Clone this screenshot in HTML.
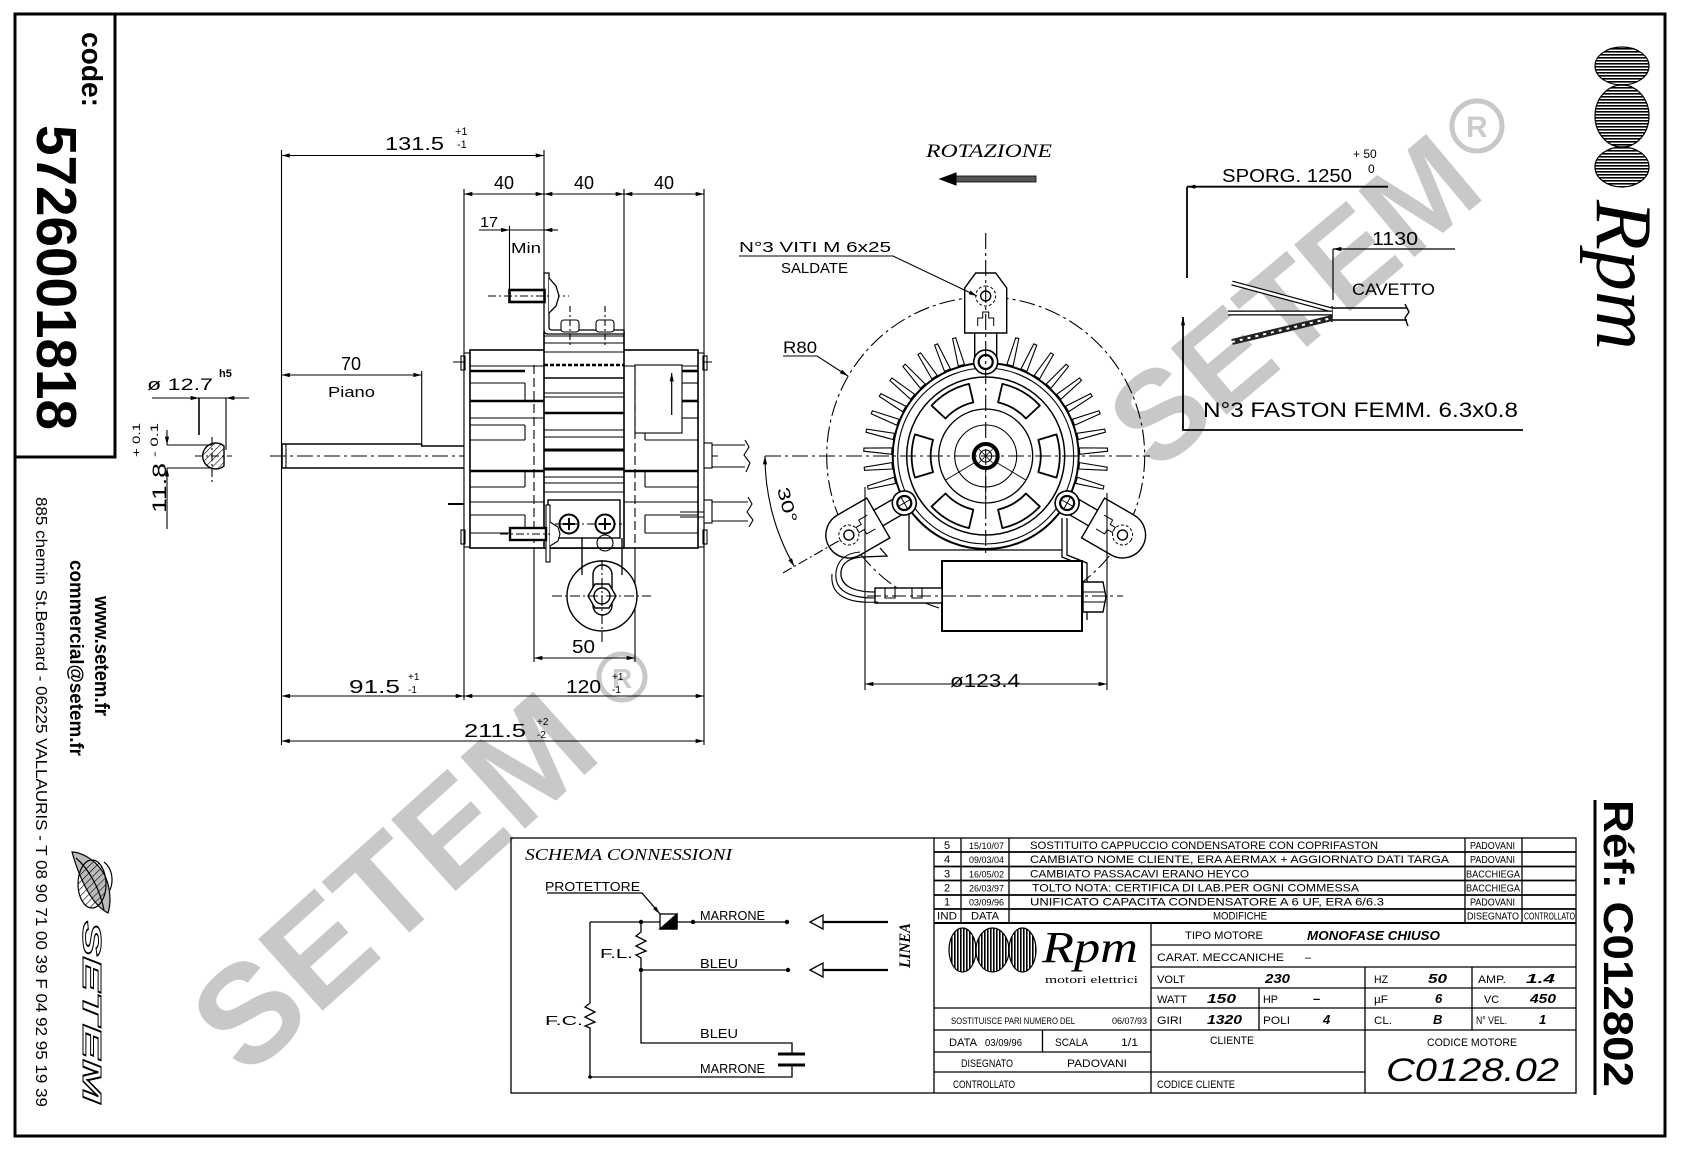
<!DOCTYPE html>
<html><head><meta charset="utf-8">
<style>
html,body{margin:0;padding:0;background:#fff;}
svg{display:block;}
text{font-family:"Liberation Sans",sans-serif;fill:#000;}
.s{font-family:"Liberation Serif",serif;}
</style></head><body>
<svg xmlns="http://www.w3.org/2000/svg" xmlns:xlink="http://www.w3.org/1999/xlink" width="1683" height="1153" viewBox="0 0 1683 1153">
<defs>
<marker id="ar" viewBox="0 0 10 6" refX="10" refY="3" markerWidth="9" markerHeight="5" orient="auto-start-reverse" markerUnits="userSpaceOnUse"><path d="M0,0.5 L10,3 L0,5.5 z" fill="#000"/></marker>
<pattern id="hatch" width="5" height="5" patternUnits="userSpaceOnUse" patternTransform="rotate(45)"><line x1="0" y1="0" x2="0" y2="5" stroke="#000" stroke-width="1.2"/></pattern>
<pattern id="hs" width="3" height="3" patternUnits="userSpaceOnUse"><rect width="3" height="1.6" fill="#000"/></pattern>
<pattern id="vs" width="3" height="3" patternUnits="userSpaceOnUse"><rect width="1.6" height="3" fill="#000"/></pattern>
<path id="fin" d="M94,-3.2 L122,-1.6 L122,1.6 L94,3.2 Z" fill="#fff" stroke="#000" stroke-width="1.1"/>
<path id="slot" d="M70.77,-21.64 A74,74 0 0 1 70.77,21.64 L52.6,16.08 A55,55 0 0 0 52.6,-16.08 Z" fill="#fff" stroke="#000" stroke-width="1.8" stroke-linejoin="round"/>
<g id="lug" fill="#fff" stroke="#000" stroke-width="1.4">
  <rect x="94" y="-9" width="32" height="18"/>
  <path d="M124,-23 H158 A23 23 0 0 1 158,23 H124 Z"/>
  <path d="M132,-8 H142 V-3 H148 V3 H142 V8 H132" fill="none" stroke-width="1"/>
  <circle cx="158" cy="0" r="10" stroke-dasharray="3 2" stroke-width="1"/>
  <circle cx="158" cy="0" r="5"/>
  <circle cx="94" cy="0" r="12" stroke-width="1.6"/>
  <circle cx="94" cy="0" r="7" stroke-width="2.2"/>
  <line x1="88" y1="0" x2="100" y2="0" stroke-width="1"/>
  <line x1="94" y1="-6" x2="94" y2="6" stroke-width="1"/>
</g>
</defs>
<rect width="1683" height="1153" fill="#fff"/>

<!-- watermarks -->
<g>
  <text transform="translate(392,881) rotate(-42)" text-anchor="middle" y="50" font-size="140" font-weight="bold" style="fill:#c8c8c8">SETEM</text>
  <text transform="translate(1293,300) rotate(-40)" text-anchor="middle" y="45" font-size="126" font-weight="bold" style="fill:#c8c8c8">SETEM</text>
</g>
<g fill="none" stroke="#c8c8c8" stroke-width="5">
  <circle cx="622" cy="677" r="23"/>
  <circle cx="1477" cy="126" r="25"/>
</g>
<text x="612" y="688" font-size="28" font-weight="bold" style="fill:#cccccc">R</text>
<text x="1466" y="137" font-size="30" font-weight="bold" style="fill:#cccccc">R</text>

<!-- frame -->
<rect x="15" y="14" width="1650" height="1122" fill="none" stroke="#000" stroke-width="3"/>
<path d="M115,14 V457 H15" fill="none" stroke="#000" stroke-width="3"/>

<!-- left panel texts -->
<text transform="translate(82,32) rotate(90)" font-size="29" font-weight="bold" textLength="75" lengthAdjust="spacingAndGlyphs">code:</text>
<text transform="translate(37,125) rotate(90)" font-size="57" font-weight="bold" textLength="305" lengthAdjust="spacingAndGlyphs">5726001818</text>
<text transform="translate(95,596) rotate(90)" font-size="20" font-weight="bold" textLength="120" lengthAdjust="spacingAndGlyphs">www.setem.fr</text>
<text transform="translate(70,560) rotate(90)" font-size="19" font-weight="bold" textLength="196" lengthAdjust="spacingAndGlyphs">commercial@setem.fr</text>
<text transform="translate(36,497) rotate(90)" font-size="16" textLength="610" lengthAdjust="spacingAndGlyphs">885 chemin St.Bernard  -  06225 VALLAURIS  -  T 08 90 71 00 39  F 04 92 95 19 39</text>
<!-- setem logo -->
<g stroke="#000" fill="none" stroke-width="1.2">
  <path d="M72,852 C80,880 92,905 108,913 C112,900 110,880 100,868 C92,858 80,852 72,852 Z" fill="#bbb"/>
  <path d="M76,858 C90,870 100,890 104,910"/>
  <path d="M104,862 C112,868 114,880 110,890"/>
  <ellipse cx="92" cy="884" rx="14" ry="24" fill="url(#hatch)"/>
</g>
<text transform="translate(83,921) rotate(90)" font-size="26" font-style="italic" font-weight="bold" textLength="182" lengthAdjust="spacingAndGlyphs" style="fill:#fff;stroke:#000;stroke-width:1">SETEM</text>

<!-- right top logo -->
<g stroke="#000" stroke-width="1.2">
  <ellipse cx="1622" cy="66" rx="27" ry="19" fill="url(#hs)"/>
  <ellipse cx="1622" cy="116" rx="27" ry="31" fill="url(#hs)"/>
  <ellipse cx="1622" cy="167" rx="27" ry="20" fill="url(#hs)"/>
</g>
<text class="s" transform="translate(1597,200) rotate(90)" font-size="80" font-style="italic" textLength="150" lengthAdjust="spacingAndGlyphs">Rpm</text>

<!-- Ref -->
<line x1="1595" y1="800" x2="1595" y2="1095" stroke="#000" stroke-width="3"/>
<text transform="translate(1604,800) rotate(90)" font-size="42" font-weight="bold" textLength="287" lengthAdjust="spacingAndGlyphs">Réf:  C012802</text>

<!-- ================= SIDE VIEW ================= -->
<g fill="none" stroke="#000" stroke-width="1.1">
  <line x1="281.5" y1="150" x2="281.5" y2="745"/>
  <line x1="464" y1="189" x2="464" y2="700"/>
  <line x1="544" y1="150" x2="544" y2="273"/>
  <line x1="624" y1="189" x2="624" y2="332"/>
  <line x1="704" y1="189" x2="704" y2="745"/>
  <line x1="509.5" y1="226" x2="509.5" y2="290"/>
  <line x1="421.7" y1="371" x2="421.7" y2="444"/>
  <line x1="281.5" y1="155.5" x2="544" y2="155.5" marker-start="url(#ar)" marker-end="url(#ar)"/>
  <line x1="464" y1="194" x2="544" y2="194" marker-start="url(#ar)" marker-end="url(#ar)"/>
  <line x1="544" y1="194" x2="624" y2="194" marker-start="url(#ar)" marker-end="url(#ar)"/>
  <line x1="624" y1="194" x2="704" y2="194" marker-start="url(#ar)" marker-end="url(#ar)"/>
  <line x1="479" y1="230" x2="509.5" y2="230" marker-end="url(#ar)"/>
  <line x1="558" y1="230" x2="544" y2="230" marker-end="url(#ar)"/>
  <line x1="509.5" y1="230" x2="544" y2="230"/>
  <line x1="281.5" y1="375" x2="421.7" y2="375" marker-start="url(#ar)" marker-end="url(#ar)"/>
  <line x1="281.5" y1="696" x2="464" y2="696" marker-start="url(#ar)" marker-end="url(#ar)"/>
  <line x1="464" y1="696" x2="704" y2="696" marker-start="url(#ar)" marker-end="url(#ar)"/>
  <line x1="281.5" y1="741" x2="704" y2="741" marker-start="url(#ar)" marker-end="url(#ar)"/>
  <line x1="534" y1="658" x2="635" y2="658" marker-start="url(#ar)" marker-end="url(#ar)"/>
  <line x1="152" y1="398" x2="199" y2="398" marker-end="url(#ar)"/>
  <line x1="249" y1="398" x2="226" y2="398" marker-end="url(#ar)"/>
  <line x1="199" y1="398" x2="226" y2="398"/>
  <line x1="199" y1="398" x2="199" y2="435" stroke-width="1.6"/>
  <line x1="226" y1="398" x2="226" y2="450"/>
  <line x1="167" y1="430" x2="167" y2="445" marker-end="url(#ar)"/>
  <line x1="167" y1="529" x2="167" y2="468" marker-end="url(#ar)"/>
  <line x1="167" y1="445" x2="212" y2="445"/>
  <line x1="167" y1="468" x2="212" y2="468"/>
  <path d="M224,446 A13,13 0 1 0 224,466 Z" fill="url(#hatch)" stroke-width="1.4"/>
  <line x1="212" y1="437" x2="212" y2="482" stroke-dasharray="8 3 2 3"/>
  <line x1="195" y1="456" x2="232" y2="456" stroke-dasharray="8 3 2 3"/>
  <line x1="270" y1="456" x2="722" y2="456" stroke-dasharray="16 4 3 4"/>
  <line x1="453" y1="362" x2="715" y2="362" stroke-dasharray="16 4 3 4"/>
  <line x1="448" y1="504" x2="703" y2="504" stroke-dasharray="16 4 3 4" stroke-width="2"/>
  <path d="M421.7,444 H282 V468 H464 M421.7,444 V446 H464" stroke-width="1.5"/>
  <line x1="286" y1="444" x2="286" y2="468"/>
  <rect x="464" y="353" width="6" height="194" fill="#fff"/>
  <rect x="698" y="353" width="6" height="194" fill="#fff"/>
  <rect x="461" y="356" width="4" height="14"/>
  <rect x="461" y="530" width="4" height="14"/>
  <rect x="703" y="356" width="4" height="14"/>
  <rect x="703" y="530" width="4" height="14"/>
  <rect x="470" y="350" width="228" height="198" stroke-width="1.6" fill="#fff"/>
  <g>
    <line x1="470" y1="371" x2="525" y2="371" stroke-width="2.6"/>
    <line x1="470" y1="401" x2="544" y2="401" stroke-width="2.6"/>
    <line x1="470" y1="471" x2="544" y2="471" stroke-width="2.6"/>
    <line x1="470" y1="383" x2="525" y2="383"/>
    <line x1="470" y1="418" x2="544" y2="418"/>
    <line x1="470" y1="425" x2="525" y2="425"/>
    <line x1="470" y1="440" x2="525" y2="440"/>
    <line x1="470" y1="487" x2="525" y2="487"/>
    <line x1="470" y1="502" x2="544" y2="502"/>
    <line x1="470" y1="515" x2="525" y2="515"/>
    <line x1="470" y1="533" x2="525" y2="533"/>
    <line x1="525" y1="383" x2="525" y2="401"/>
    <line x1="525" y1="425" x2="525" y2="440"/>
    <line x1="525" y1="471" x2="525" y2="487"/>
    <line x1="525" y1="515" x2="525" y2="533"/>
    <line x1="470" y1="366" x2="544" y2="366"/>
  </g>
  <g>
    <line x1="682" y1="371" x2="698" y2="371" stroke-width="2.6"/>
    <line x1="682" y1="401" x2="698" y2="401" stroke-width="2.6"/>
    <line x1="624" y1="471" x2="698" y2="471" stroke-width="2.6"/>
    <line x1="682" y1="383" x2="698" y2="383"/>
    <line x1="682" y1="418" x2="698" y2="418"/>
    <line x1="645" y1="440" x2="698" y2="440"/>
    <line x1="645" y1="487" x2="698" y2="487"/>
    <line x1="624" y1="502" x2="698" y2="502"/>
    <line x1="645" y1="515" x2="698" y2="515"/>
    <line x1="645" y1="533" x2="698" y2="533"/>
    <line x1="645" y1="433" x2="645" y2="440"/>
    <line x1="645" y1="471" x2="645" y2="487"/>
    <line x1="645" y1="515" x2="645" y2="533"/>
    <line x1="624" y1="366" x2="698" y2="366"/>
    <rect x="635" y="365" width="47" height="68" fill="#fff"/>
    <line x1="671.7" y1="415" x2="671.7" y2="373" stroke-width="1.2" marker-end="url(#ar)"/>
  </g>
  <rect x="544" y="332" width="80" height="216" stroke-width="1.6" fill="#fff"/>
  <g>
    <line x1="544" y1="336" x2="624" y2="336"/>
    <line x1="544" y1="343" x2="624" y2="343"/>
    <line x1="544" y1="352" x2="624" y2="352"/>
    <line x1="544" y1="365" x2="624" y2="365" stroke-width="2.4" stroke-dasharray="4 2"/>
    <line x1="544" y1="378" x2="624" y2="378" stroke-width="1.6"/>
    <line x1="544" y1="393" x2="624" y2="393"/>
    <line x1="544" y1="397" x2="624" y2="397"/>
    <line x1="544" y1="413" x2="624" y2="413" stroke-width="2.6"/>
    <line x1="544" y1="430" x2="624" y2="430"/>
    <line x1="544" y1="437" x2="624" y2="437"/>
    <line x1="544" y1="450" x2="624" y2="450" stroke-width="3"/>
    <line x1="544" y1="469" x2="624" y2="469" stroke-width="3"/>
    <line x1="544" y1="477" x2="624" y2="477"/>
    <line x1="544" y1="483" x2="624" y2="483"/>
    <line x1="544" y1="492" x2="624" y2="492"/>
  </g>
  <line x1="534" y1="365" x2="534" y2="548" stroke-dasharray="9 4"/>
  <line x1="635" y1="365" x2="635" y2="548" stroke-dasharray="9 4"/>
  <line x1="534" y1="548" x2="534" y2="662"/>
  <line x1="635" y1="548" x2="635" y2="662"/>
  <rect x="704" y="443" width="8" height="25" fill="#fff"/>
  <path d="M712,445 H745 M712,467 H745 M745,440 L749,447 L744,455 L750,463 L746,472"/>
  <rect x="704" y="500" width="8" height="23" fill="#fff"/>
  <path d="M712,502 H748 M712,521 H748 M748,497 L752,504 L747,512 L753,520 L749,527"/>
  <line x1="680" y1="512" x2="704" y2="512"/>
  <line x1="680" y1="517" x2="704" y2="517"/>
  <path d="M544,273 H549 V327 Q549,330 552,330 H624 V334 H548 Q544,334 544,330 Z" fill="#fff" stroke-width="1.3"/>
  <rect x="509.5" y="290" width="35" height="12" fill="#fff" stroke-width="2.6"/>
  <line x1="488" y1="296" x2="569" y2="296" stroke-dasharray="8 3 2 3"/>
  <path d="M549,278 L556,286 L559,296 L556,306 L549,313" fill="#fff" stroke-width="1.3"/>
  <rect x="561" y="320" width="18" height="12" rx="3" fill="#fff"/>
  <rect x="596" y="320" width="18" height="12" rx="3" fill="#fff"/>
  <line x1="570" y1="306" x2="570" y2="346" stroke-dasharray="6 3 2 3"/>
  <line x1="605" y1="306" x2="605" y2="346" stroke-dasharray="6 3 2 3"/>
  <path d="M582,538 V596 M622,538 V596"/>
  <circle cx="602" cy="596" r="35" fill="#fff" stroke-width="1.4"/>
  <path d="M582,538 V575 M622,538 V575" stroke-width="1.3"/>
  <rect x="593" y="565" width="19" height="50" rx="9.5" fill="#fff" stroke-width="1.4"/>
  <polygon points="616,596 609,608 595,608 588,596 595,584 609,584" fill="#fff" stroke-width="1.4"/>
  <circle cx="602" cy="596" r="8" stroke-width="1.4"/>
  <line x1="552" y1="596" x2="651" y2="596" stroke-dasharray="10 3 2 3"/>
  <line x1="602" y1="560" x2="602" y2="642" stroke-dasharray="10 3 2 3"/>
  <rect x="548" y="500" width="72" height="38" fill="#fff" stroke-width="1.4"/>
  <circle cx="569" cy="524" r="9.5" stroke-width="2"/>
  <circle cx="605" cy="524" r="9.5" stroke-width="2"/>
  <path d="M563,524 H575 M569,518 V530 M599,524 H611 M605,518 V530" stroke-width="2"/>
  <circle cx="605" cy="543" r="8"/>
  <line x1="555" y1="524" x2="622" y2="524" stroke-dasharray="8 3 2 3"/>
  <rect x="546" y="505" width="4" height="57" fill="#fff"/>
  <rect x="510" y="528" width="36" height="12" fill="#fff" stroke-width="2.4"/>
  <line x1="500" y1="534" x2="560" y2="534" stroke-dasharray="8 3 2 3"/>
  <path d="M550,522 L558,527 L560,534 L558,541 L550,546" fill="#fff"/>
</g>
<text x="385" y="150" font-size="18" textLength="59" lengthAdjust="spacingAndGlyphs">131.5</text>
<text x="455" y="135" font-size="11">+1</text>
<text x="457" y="148" font-size="11">-1</text>
<text x="504" y="189" font-size="18" text-anchor="middle">40</text>
<text x="584" y="189" font-size="18" text-anchor="middle">40</text>
<text x="664" y="189" font-size="18" text-anchor="middle">40</text>
<text x="480" y="227" font-size="15" textLength="18" lengthAdjust="spacingAndGlyphs">17</text>
<text x="511" y="253" font-size="15" textLength="30" lengthAdjust="spacingAndGlyphs">Min</text>
<text x="351" y="370" font-size="18" text-anchor="middle">70</text>
<text x="328" y="397" font-size="15" textLength="47" lengthAdjust="spacingAndGlyphs">Piano</text>
<text x="147" y="390" font-size="17" textLength="66" lengthAdjust="spacingAndGlyphs">ø 12.7</text>
<text x="219" y="377" font-size="11" font-weight="bold">h5</text>
<text transform="translate(166,513) rotate(-90)" font-size="19" textLength="50" lengthAdjust="spacingAndGlyphs">11.8</text>
<text transform="translate(140,457) rotate(-90)" font-size="11" textLength="34" lengthAdjust="spacingAndGlyphs">+ 0.1</text>
<text transform="translate(158,457) rotate(-90)" font-size="11" textLength="34" lengthAdjust="spacingAndGlyphs">- 0.1</text>
<text x="349" y="693" font-size="18" textLength="51" lengthAdjust="spacingAndGlyphs">91.5</text>
<text x="408" y="680" font-size="10">+1</text>
<text x="408" y="693" font-size="10">-1</text>
<text x="566" y="693" font-size="18" textLength="35" lengthAdjust="spacingAndGlyphs">120</text>
<text x="612" y="680" font-size="10">+1</text>
<text x="612" y="693" font-size="10">-1</text>
<text x="464" y="737" font-size="18" textLength="62" lengthAdjust="spacingAndGlyphs">211.5</text>
<text x="537" y="725" font-size="10">+2</text>
<text x="537" y="738" font-size="10">-2</text>
<text x="572" y="653" font-size="18" textLength="23" lengthAdjust="spacingAndGlyphs">50</text>

<!-- ================= FRONT VIEW ================= -->
<g fill="none" stroke="#000" stroke-width="1.1">
  <circle cx="985.7" cy="456" r="159" stroke-dasharray="16 4 3 4"/>
  <g transform="translate(985.7,456)">
    <use xlink:href="#fin" transform="rotate(-105)"/>
    <use xlink:href="#fin" transform="rotate(-114)"/>
    <use xlink:href="#fin" transform="rotate(-123)"/>
    <use xlink:href="#fin" transform="rotate(-132)"/>
    <use xlink:href="#fin" transform="rotate(-141)"/>
    <use xlink:href="#fin" transform="rotate(-150)"/>
    <use xlink:href="#fin" transform="rotate(-159)"/>
    <use xlink:href="#fin" transform="rotate(-168)"/>
    <use xlink:href="#fin" transform="rotate(-177)"/>
    <use xlink:href="#fin" transform="rotate(-186)"/>
    <use xlink:href="#fin" transform="rotate(-195)"/>
    <use xlink:href="#fin" transform="rotate(-75)"/>
    <use xlink:href="#fin" transform="rotate(-66)"/>
    <use xlink:href="#fin" transform="rotate(-57)"/>
    <use xlink:href="#fin" transform="rotate(-48)"/>
    <use xlink:href="#fin" transform="rotate(-39)"/>
    <use xlink:href="#fin" transform="rotate(-30)"/>
    <use xlink:href="#fin" transform="rotate(-21)"/>
    <use xlink:href="#fin" transform="rotate(-12)"/>
    <use xlink:href="#fin" transform="rotate(-3)"/>
    <use xlink:href="#fin" transform="rotate(6)"/>
    <use xlink:href="#fin" transform="rotate(15)"/>
    <circle r="93" fill="#fff" stroke-width="2"/>
    <circle r="88"/>
    <circle r="79" stroke-width="1.5"/>
    <use xlink:href="#slot" transform="rotate(0)"/>
    <use xlink:href="#slot" transform="rotate(-60)"/>
    <use xlink:href="#slot" transform="rotate(-120)"/>
    <use xlink:href="#slot" transform="rotate(180)"/>
    <use xlink:href="#slot" transform="rotate(60)"/>
    <use xlink:href="#slot" transform="rotate(120)"/>
    <circle r="47" stroke-width="1.3"/>
    <circle r="31"/>
    <circle r="12" stroke-width="4"/>
    <circle r="6"/>
    <path d="M-7,-7 L7,7 M-7,7 L7,-7" stroke-width="0.8"/>
    <path d="M-10,6 L-40,24 M10,6 L40,24 M0,12 L0,47" stroke-width="0.9"/>
    <use xlink:href="#lug" transform="rotate(150)"/>
    <use xlink:href="#lug" transform="rotate(30)"/>
    <g transform="rotate(-90)" fill="#fff" stroke="#000" stroke-width="1.4">
      <rect x="94" y="-11" width="30" height="22"/>
      <path d="M123,-21 H168 L183,-10 V10 L168,21 H123 Z"/>
      <path d="M130,-8 H138 V-3 H144 V3 H138 V8 H130" fill="none" stroke-width="1"/>
      <circle cx="160" cy="0" r="10" stroke-dasharray="3 2" stroke-width="1"/>
      <circle cx="160" cy="0" r="5"/>
      <circle cx="94" cy="0" r="12" stroke-width="1.6"/>
      <circle cx="94" cy="0" r="7" stroke-width="2.2"/>
    </g>
  </g>
  <path d="M909,513 V550 H1062" stroke-width="1.3"/>
  <path d="M1062,518 V557 L1082,565 V620 M1067,518 V555 L1087,563 V620" stroke-width="1.3"/>
  <rect x="942" y="561" width="140" height="70" fill="#fff" stroke-width="2"/>
  <rect x="875" y="588" width="67" height="15" fill="#fff" stroke-width="1.4"/>
  <path d="M885,588 V598 H895 V588 M912,588 V598 H922 V588"/>
  <polygon points="1083,582 1103,582 1106,597 1103,612 1083,612" fill="#fff" stroke-width="1.4"/>
  <line x1="1083" y1="592" x2="1105" y2="592"/>
  <line x1="1083" y1="602" x2="1105" y2="602"/>
  <line x1="867" y1="596" x2="1123" y2="596" stroke-dasharray="14 4 3 4"/>
  <path d="M875,592 C852,592 840,585 841,572 C842,562 850,558 862,557 L887,556 L880,548" stroke-width="1.3"/>
  <path d="M875,598 C848,598 834,590 836,572 C838,558 848,553 860,552"/>
  <path d="M878,602 C845,604 830,594 832,574"/>
  <line x1="765" y1="456" x2="1150" y2="456" stroke-dasharray="16 4 3 4"/>
  <line x1="985.7" y1="233" x2="985.7" y2="555" stroke-dasharray="16 4 3 4"/>
  <line x1="865" y1="487" x2="865" y2="690"/>
  <line x1="1107" y1="493" x2="1107" y2="690"/>
  <line x1="865" y1="684" x2="1107" y2="684" marker-start="url(#ar)" marker-end="url(#ar)"/>
  <path d="M765,456 A221 221 0 0 0 794.3,566.5" marker-start="url(#ar)" marker-end="url(#ar)"/>
  <line x1="838.5" y1="541" x2="782" y2="573.5" stroke-dasharray="10 3 2 3"/>
  <path d="M739,256 H893 L977,296" marker-end="url(#ar)"/>
  <path d="M783,356 H817 L848,376" marker-end="url(#ar)"/>
  <rect x="954" y="176" width="82" height="6" fill="#555" stroke-width="0.8"/>
  <polygon points="940,179 956,173 956,185" fill="#000"/>
</g>
<text x="950" y="687" font-size="18" textLength="70" lengthAdjust="spacingAndGlyphs">ø123.4</text>
<text transform="translate(777,489) rotate(75)" font-size="17" textLength="36" lengthAdjust="spacingAndGlyphs">30°</text>
<text x="783" y="353" font-size="17" textLength="34" lengthAdjust="spacingAndGlyphs">R80</text>
<text x="739" y="252" font-size="15" textLength="152" lengthAdjust="spacingAndGlyphs">N°3 VITI M 6x25</text>
<text x="781" y="273" font-size="15" textLength="67" lengthAdjust="spacingAndGlyphs">SALDATE</text>
<text class="s" x="926" y="157" font-size="19" font-style="italic" textLength="126" lengthAdjust="spacingAndGlyphs">ROTAZIONE</text>

<!-- ================= RIGHT CABLE AREA ================= -->
<g fill="none" stroke="#000" stroke-width="1.2">
  <line x1="1388" y1="186.7" x2="1187" y2="186.7" stroke-width="1.8" marker-end="url(#ar)"/>
  <line x1="1187" y1="186.7" x2="1187" y2="278" stroke-width="1.8"/>
  <path d="M1523,430 H1183 V317" stroke-width="1.8" marker-end="url(#ar)"/>
  <line x1="1455" y1="249" x2="1333" y2="249" marker-end="url(#ar)"/>
  <line x1="1333" y1="249" x2="1333" y2="300"/>
  <path d="M1332,306 V322 M1332,308 H1407 M1332,320 H1407 M1405,304 L1409,312 L1405,318 L1408,326" stroke-width="1.4"/>
  <line x1="1232" y1="283" x2="1332" y2="310" stroke-width="5"/>
  <line x1="1232" y1="283" x2="1332" y2="310" stroke="#fff" stroke-width="2.6"/>
  <line x1="1228" y1="313" x2="1332" y2="313" stroke-width="5"/>
  <line x1="1228" y1="313" x2="1332" y2="313" stroke="#fff" stroke-width="2.6"/>
  <line x1="1232" y1="342" x2="1332" y2="318" stroke-width="6" stroke="#222"/>
  <line x1="1232" y1="342" x2="1332" y2="318" stroke="#fff" stroke-width="2" stroke-dasharray="3 5"/>
</g>
<text x="1222" y="182" font-size="18" textLength="130" lengthAdjust="spacingAndGlyphs">SPORG. 1250</text>
<text x="1353" y="158" font-size="12">+ 50</text>
<text x="1368" y="173" font-size="12">0</text>
<text x="1372" y="245" font-size="18" textLength="46" lengthAdjust="spacingAndGlyphs">1130</text>
<text x="1352" y="295" font-size="17" textLength="83" lengthAdjust="spacingAndGlyphs">CAVETTO</text>
<text x="1203" y="417" font-size="21" textLength="315" lengthAdjust="spacingAndGlyphs">N°3 FASTON FEMM. 6.3x0.8</text>

<!-- ================= TITLE BLOCK ================= -->
<g fill="none" stroke="#000" stroke-width="1.3">
  <rect x="511" y="838" width="1065" height="255"/>
  <line x1="934" y1="838" x2="934" y2="1093"/>
  <path d="M934,852 H1576 M934,866.5 H1576 M934,880.5 H1576 M934,895 H1576 M934,909 H1576" stroke-width="1.8"/>
  <line x1="934" y1="923" x2="1576" y2="923" stroke-width="2"/>
  <path d="M961,838 V923 M1009,838 V923 M1465,838 V923 M1522,838 V923"/>
  <line x1="1151" y1="923" x2="1151" y2="1093"/>
  <path d="M934,1008 H1151 M934,1030 H1151 M934,1052 H1151 M934,1072 H1151 M1042.5,1030 V1052"/>
  <path d="M1151,945 H1576 M1151,967 H1576 M1151,988 H1576 M1151,1008 H1576 M1151,1030 H1576 M1151,1072 H1365"/>
  <path d="M1259,988 V1030 M1365,967 V1093 M1472,967 V1030"/>
</g>
<g font-size="11">
  <text x="944" y="849">5</text><text x="944" y="863">4</text><text x="944" y="877.5">3</text><text x="944" y="891.5">2</text><text x="944" y="905.5">1</text>
  <text x="937" y="919.5" textLength="20" lengthAdjust="spacingAndGlyphs">IND</text>
  <text x="969" y="849" font-size="9" textLength="35" lengthAdjust="spacingAndGlyphs">15/10/07</text>
  <text x="969" y="863" font-size="9" textLength="35" lengthAdjust="spacingAndGlyphs">09/03/04</text>
  <text x="969" y="877.5" font-size="9" textLength="35" lengthAdjust="spacingAndGlyphs">16/05/02</text>
  <text x="969" y="891.5" font-size="9" textLength="35" lengthAdjust="spacingAndGlyphs">26/03/97</text>
  <text x="969" y="905.5" font-size="9" textLength="35" lengthAdjust="spacingAndGlyphs">03/09/96</text>
  <text x="971" y="919.5" textLength="28" lengthAdjust="spacingAndGlyphs">DATA</text>
  <text x="1030" y="849" textLength="348" lengthAdjust="spacingAndGlyphs">SOSTITUITO CAPPUCCIO CONDENSATORE CON COPRIFASTON</text>
  <text x="1030" y="863" textLength="419" lengthAdjust="spacingAndGlyphs">CAMBIATO NOME CLIENTE, ERA AERMAX + AGGIORNATO DATI TARGA</text>
  <text x="1030" y="877.5" textLength="219" lengthAdjust="spacingAndGlyphs">CAMBIATO PASSACAVI ERANO HEYCO</text>
  <text x="1032" y="891.5" textLength="327" lengthAdjust="spacingAndGlyphs">TOLTO NOTA: CERTIFICA DI LAB.PER OGNI COMMESSA</text>
  <text x="1030" y="905.5" textLength="354" lengthAdjust="spacingAndGlyphs">UNIFICATO CAPACITA CONDENSATORE A 6 UF, ERA 6/6.3</text>
  <text x="1213" y="919.5" textLength="54" lengthAdjust="spacingAndGlyphs">MODIFICHE</text>
  <text x="1470" y="849" font-size="10" textLength="45" lengthAdjust="spacingAndGlyphs">PADOVANI</text>
  <text x="1470" y="863" font-size="10" textLength="45" lengthAdjust="spacingAndGlyphs">PADOVANI</text>
  <text x="1466" y="877.5" font-size="10" textLength="54" lengthAdjust="spacingAndGlyphs">BACCHIEGA</text>
  <text x="1466" y="891.5" font-size="10" textLength="54" lengthAdjust="spacingAndGlyphs">BACCHIEGA</text>
  <text x="1470" y="905.5" font-size="10" textLength="45" lengthAdjust="spacingAndGlyphs">PADOVANI</text>
  <text x="1467" y="919.5" font-size="10" textLength="52" lengthAdjust="spacingAndGlyphs">DISEGNATO</text>
  <text x="1524" y="919.5" font-size="10" textLength="51" lengthAdjust="spacingAndGlyphs">CONTROLLATO</text>
</g>
<g stroke="#000" stroke-width="1.2">
  <ellipse cx="962.5" cy="950" rx="13.5" ry="22" fill="url(#vs)"/>
  <ellipse cx="992.5" cy="950" rx="16.5" ry="22" fill="url(#vs)"/>
  <ellipse cx="1022.5" cy="950" rx="13.5" ry="22" fill="url(#vs)"/>
</g>
<text class="s" x="1042" y="962" font-size="44" font-style="italic" textLength="96" lengthAdjust="spacingAndGlyphs">Rpm</text>
<text class="s" x="1045" y="983" font-size="11" textLength="93" lengthAdjust="spacingAndGlyphs">motori elettrici</text>
<g font-size="11">
  <text x="951" y="1024" font-size="9" textLength="124" lengthAdjust="spacingAndGlyphs">SOSTITUISCE PARI NUMERO DEL</text>
  <text x="1112" y="1024" font-size="9" textLength="35" lengthAdjust="spacingAndGlyphs">06/07/93</text>
  <text x="949" y="1046" textLength="28" lengthAdjust="spacingAndGlyphs">DATA</text>
  <text x="985" y="1046" font-size="10" textLength="37" lengthAdjust="spacingAndGlyphs">03/09/96</text>
  <text x="1055" y="1046" textLength="33" lengthAdjust="spacingAndGlyphs">SCALA</text>
  <text x="1121" y="1046" textLength="17" lengthAdjust="spacingAndGlyphs">1/1</text>
  <text x="961" y="1067" textLength="52" lengthAdjust="spacingAndGlyphs">DISEGNATO</text>
  <text x="1067" y="1067" textLength="60" lengthAdjust="spacingAndGlyphs">PADOVANI</text>
  <text x="953" y="1088" textLength="62" lengthAdjust="spacingAndGlyphs">CONTROLLATO</text>
  <text x="1185" y="939" textLength="78" lengthAdjust="spacingAndGlyphs">TIPO MOTORE</text>
  <text x="1157" y="961" textLength="127" lengthAdjust="spacingAndGlyphs">CARAT. MECCANICHE</text>
  <text x="1305" y="961">–</text>
  <text x="1157" y="983" textLength="28" lengthAdjust="spacingAndGlyphs">VOLT</text>
  <text x="1374" y="983" textLength="14" lengthAdjust="spacingAndGlyphs">HZ</text>
  <text x="1478" y="983" textLength="28" lengthAdjust="spacingAndGlyphs">AMP.</text>
  <text x="1157" y="1003" textLength="30" lengthAdjust="spacingAndGlyphs">WATT</text>
  <text x="1263" y="1003" textLength="15" lengthAdjust="spacingAndGlyphs">HP</text>
  <text x="1374" y="1003" textLength="14" lengthAdjust="spacingAndGlyphs">µF</text>
  <text x="1484" y="1003" textLength="15" lengthAdjust="spacingAndGlyphs">VC</text>
  <text x="1157" y="1024" textLength="25" lengthAdjust="spacingAndGlyphs">GIRI</text>
  <text x="1263" y="1024" textLength="27" lengthAdjust="spacingAndGlyphs">POLI</text>
  <text x="1374" y="1024" textLength="18" lengthAdjust="spacingAndGlyphs">CL.</text>
  <text x="1476" y="1024" textLength="31" lengthAdjust="spacingAndGlyphs">N° VEL.</text>
  <text x="1210" y="1044" textLength="44" lengthAdjust="spacingAndGlyphs">CLIENTE</text>
  <text x="1157" y="1088" textLength="78" lengthAdjust="spacingAndGlyphs">CODICE CLIENTE</text>
  <text x="1427" y="1046" textLength="90" lengthAdjust="spacingAndGlyphs">CODICE MOTORE</text>
</g>
<g font-size="13" font-style="italic" font-weight="bold">
  <text x="1307" y="940" textLength="133" lengthAdjust="spacingAndGlyphs">MONOFASE CHIUSO</text>
  <text x="1265" y="983" textLength="25" lengthAdjust="spacingAndGlyphs">230</text>
  <text x="1428" y="983" textLength="19" lengthAdjust="spacingAndGlyphs">50</text>
  <text x="1526" y="983" textLength="29" lengthAdjust="spacingAndGlyphs">1.4</text>
  <text x="1207" y="1003" textLength="29" lengthAdjust="spacingAndGlyphs">150</text>
  <text x="1313" y="1003">–</text>
  <text x="1435" y="1003">6</text>
  <text x="1530" y="1003" textLength="26" lengthAdjust="spacingAndGlyphs">450</text>
  <text x="1207" y="1024" textLength="35" lengthAdjust="spacingAndGlyphs">1320</text>
  <text x="1323" y="1024">4</text>
  <text x="1433" y="1024">B</text>
  <text x="1539" y="1024">1</text>
</g>
<text x="1386" y="1081" font-size="32" font-style="italic" textLength="173" lengthAdjust="spacingAndGlyphs">C0128.02</text>

<!-- ================= SCHEMA ================= -->
<g fill="none" stroke="#000" stroke-width="1.3">
  <path d="M547,893 H642 L660,914" marker-end="url(#ar)"/>
  <rect x="660" y="914" width="17" height="15" fill="#fff"/>
  <polygon points="677,914 677,929 660,929" fill="#000"/>
  <path d="M590,922 H660 M677,922 H787"/>
  <path d="M590,922 V1003 L585,1007 L595,1012 L585,1017 L595,1022 L585,1026 L590,1028 V1077 H792 V1065"/>
  <path d="M641,922 V932 L636,936 L646,941 L636,946 L646,951 L636,955 L641,958 V1043 H792 V1054"/>
  <path d="M641,970 H788"/>
  <path d="M778,1054 H805 M778,1065 H805" stroke-width="3"/>
  <path d="M823,922 H888 M823,970 H888" stroke-width="2.2"/>
  <polygon points="810,922 823,915 823,929" fill="#fff"/>
  <polygon points="810,970 823,963 823,977" fill="#fff"/>
</g>
<g fill="#000">
  <circle cx="641" cy="922" r="2.2"/><circle cx="693" cy="922" r="2.2"/><circle cx="787" cy="922" r="2.2"/>
  <circle cx="641" cy="970" r="2.2"/><circle cx="788" cy="970" r="2.2"/>
  <circle cx="590" cy="1077" r="1.8"/>
</g>
<text class="s" x="525" y="860" font-size="17" font-style="italic" textLength="207" lengthAdjust="spacingAndGlyphs">SCHEMA CONNESSIONI</text>
<text x="545" y="891" font-size="13" textLength="95" lengthAdjust="spacingAndGlyphs">PROTETTORE</text>
<text x="700" y="920" font-size="13" textLength="65" lengthAdjust="spacingAndGlyphs">MARRONE</text>
<text x="700" y="968" font-size="13" textLength="38" lengthAdjust="spacingAndGlyphs">BLEU</text>
<text x="600" y="958" font-size="13" textLength="33" lengthAdjust="spacingAndGlyphs">F.L.</text>
<text x="545" y="1025" font-size="13" textLength="38" lengthAdjust="spacingAndGlyphs">F.C.</text>
<text x="700" y="1038" font-size="13" textLength="38" lengthAdjust="spacingAndGlyphs">BLEU</text>
<text x="700" y="1073" font-size="13" textLength="65" lengthAdjust="spacingAndGlyphs">MARRONE</text>
<text class="s" transform="translate(910,968) rotate(-90)" font-size="16" font-style="italic" font-weight="bold" textLength="45" lengthAdjust="spacingAndGlyphs">LINEA</text>
</svg>
</body></html>
